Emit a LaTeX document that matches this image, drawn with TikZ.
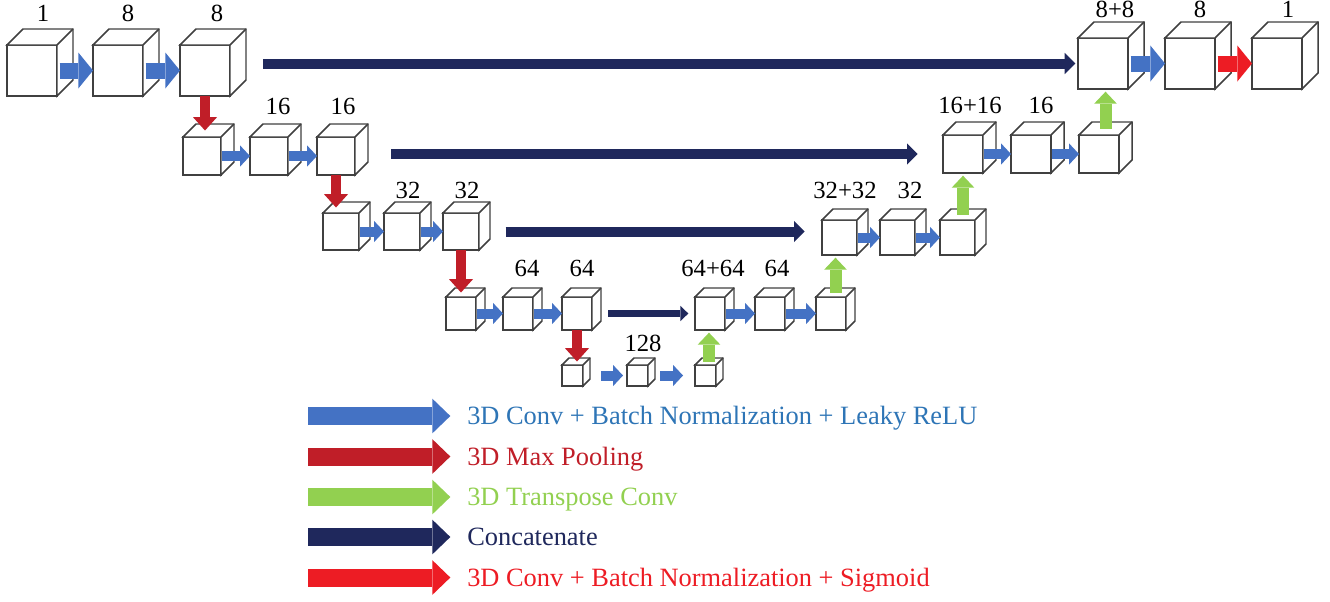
\documentclass[tikz,border=0pt]{standalone}
\usepackage{fontspec}
\setmainfont{Liberation Serif}
\usetikzlibrary{arrows.meta,calc}

\definecolor{convblue}{RGB}{68,114,196}
\definecolor{convtext}{RGB}{46,117,182}
\definecolor{poolred}{RGB}{192,30,40}
\definecolor{tgreen}{RGB}{146,208,80}
\definecolor{catnavy}{RGB}{31,40,92}
\definecolor{sigred}{RGB}{237,28,36}
\definecolor{edgegray}{RGB}{64,64,64}

\tikzset{
  face/.style={draw=edgegray, fill=white, line width=1.1pt, inner sep=0pt, outer sep=0pt},
  edge/.style={draw=edgegray, fill=white, line width=1.1pt, line join=miter},
  convarr/.style={convblue, line width=7.5pt, -{Triangle[length=7.5pt, width=16pt, line width=0pt]}},
  convbig/.style={convblue, line width=12pt, -{Triangle[length=11pt, width=27pt, line width=0pt]}},
  sigarr/.style={convbig, sigred},
  poolarr/.style={poolred, line width=8pt, -{Triangle[length=10pt, width=18pt, line width=0pt]}},
  tconvarr/.style={tgreen, line width=9pt, -{Triangle[length=9pt, width=17pt, line width=0pt]}},
  catarr/.style={catnavy, line width=7.5pt, -{Triangle[length=8pt, width=16pt, line width=0pt]}},
  catthin/.style={catarr, line width=5.5pt, -{Triangle[length=6pt, width=11.5pt, line width=0pt]}},
  legarr/.style={line width=13.5pt, -{Triangle[length=13.5pt, width=26pt, line width=0pt]}, shorten >=12.5pt},
  lab/.style={inner sep=0pt, font=\fontsize{18.5}{20}\selectfont},
  legtxt/.style={inner sep=0pt, anchor=base west, font=\fontsize{19.8}{22}\selectfont}
}

% name, left, top, width, height, depth
\newcommand{\ucube}[6]{%
  \node[face, anchor=north west, minimum width=#4*0.75pt, minimum height=#5*0.75pt] (#1) at (#2,#3) {};
  \draw[edge] (#1.north west) -- ++(#6,-#6) -- ([shift={(#6,-#6)}]#1.north east)
    -- ([shift={(#6,-#6)}]#1.south east) -- (#1.south east) -- (#1.north east) -- cycle;
  \draw[edge] (#1.north east) -- ++(#6,-#6);
  \coordinate (#1top) at ([shift={(#6/2,-#6/2)}]#1.north);
}

\begin{document}
\begin{tikzpicture}[x=0.75pt, y=-0.75pt]
	\useasboundingbox (0,0) rectangle (1330,601);

	% encoder
	\ucube{a1}{7}{45}{50}{51}{16}
	\ucube{a2}{93}{45}{50}{51}{16}
	\ucube{a3}{180}{45}{50}{51}{16}
	\ucube{b1}{183}{137}{38}{38}{13}
	\ucube{b2}{250}{137}{38}{38}{13}
	\ucube{b3}{317}{137}{38}{38}{13}
	\ucube{c1}{323}{213}{36}{37}{11}
	\ucube{c2}{384}{213}{36}{37}{11}
	\ucube{c3}{443}{213}{36}{37}{11}
	\ucube{e1}{446}{297}{30}{33}{9}
	\ucube{e2}{503}{297}{30}{33}{9}
	\ucube{e3}{562}{297}{30}{33}{9}
	% bottom
	\ucube{f1}{562}{365}{21}{21}{7}
	\ucube{f2}{627}{365}{21}{21}{7}
	\ucube{f3}{695}{365}{21}{21}{7}
	% decoder
	\ucube{g1}{695}{297}{30}{33}{9}
	\ucube{g2}{755}{297}{30}{33}{9}
	\ucube{g3}{816}{297}{30}{33}{9}
	\ucube{h1}{822}{220}{35}{35}{11}
	\ucube{h2}{880}{220}{35}{35}{11}
	\ucube{h3}{940}{220}{35}{35}{11}
	\ucube{k1}{943}{135}{40}{38}{13}
	\ucube{k2}{1011}{135}{40}{38}{13}
	\ucube{k3}{1079}{135}{40}{38}{13}
	\ucube{m1}{1078}{38}{50}{51}{16}
	\ucube{m2}{1165}{38}{50}{51}{16}
	\ucube{m3}{1252}{38}{50}{51}{16}

	% conv
	\draw[convbig, shorten <=2pt] (a1.east) -- (a2.west);
	\draw[convbig, shorten <=2pt] (a2.east) -- (a3.west);
	\draw[convarr, shorten <=1pt] (b1.east) -- (b2.west);
	\draw[convarr, shorten <=1pt] (b2.east) -- (b3.west);
	\draw[convarr, shorten <=1pt] (c1.east) -- (c2.west);
	\draw[convarr, shorten <=1pt] (c2.east) -- (c3.west);
	\draw[convarr, shorten <=1pt] (e1.east) -- (e2.west);
	\draw[convarr, shorten <=1pt] (e2.east) -- (e3.west);
	\draw[convarr, shorten <=13.5pt, shorten >=3pt] (f1.east) -- (f2.west);
	\draw[convarr, shorten <=9pt, shorten >=9pt] (f2.east) -- (f3.west);
	\draw[convarr, shorten <=1pt] (g1.east) -- (g2.west);
	\draw[convarr, shorten <=1pt] (g2.east) -- (g3.west);
	\draw[convarr, shorten <=1pt] (h1.east) -- (h2.west);
	\draw[convarr, shorten <=1pt] (h2.east) -- (h3.west);
	\draw[convarr, shorten <=1pt] (k1.east) -- (k2.west);
	\draw[convarr, shorten <=1pt] (k2.east) -- (k3.west);
	\draw[convbig, shorten <=2pt] (m1.east) -- (m2.west);
	\draw[sigarr, shorten <=2pt] (m2.east) -- (m3.west);

	% max pooling
	\draw[poolarr] (a3.south) -- (a3.south |- b1top);
	\draw[poolarr] (b3.south) -- (b3.south |- c1top);
	\draw[poolarr] (c3.south) -- (c3.south |- e1top);
	\draw[poolarr] (e3.south) -- (e3.south |- f1top);

	% transpose conv
	\draw[tconvarr, shorten >=2pt] (f3top) -- (f3top |- g1.south);
	\draw[tconvarr, shorten >=2pt] (g3top) -- (g3top |- h1.south);
	\draw[tconvarr, shorten >=2pt] (h3top) -- (h3top |- k1.south);
	\draw[tconvarr, shorten >=2pt] (k3top) -- (k3top |- m1.south);

	% concatenate
	\draw[catarr, shorten <=25pt, shorten >=2pt] (a3.east |- m1.west) -- (m1.west);
	\draw[catarr, shorten <=27pt, shorten >=19pt] (b3.east |- k1.west) -- (k1.west);
	\draw[catarr, shorten <=20pt, shorten >=13pt] (c3.east) -- (c3.east -| h1.west);
	\draw[catthin, shorten <=12pt, shorten >=5pt] (e3.east) -- (e3.east -| g1.west);

	% channels
	\node[lab] (n1) at (43,13) {1};
	\node[lab] (n2) at (128,13) {8};
	\node[lab] (n3) at (217,13) {8};
	\node[lab] (n4) at (278,106) {16};
	\node[lab] (n5) at (343,106) {16};
	\node[lab] (n6) at (408,190) {32};
	\node[lab] (n7) at (467,190) {32};
	\node[lab] (n8) at (527,268) {64};
	\node[lab] (n9) at (582,268) {64};
	\node[lab] (n10) at (643,343) {128};
	\node[lab] (n11) at (713,268) {64+64};
	\node[lab] (n12) at (777,268) {64};
	\node[lab] (n13) at (845,190) {32+32};
	\node[lab] (n14) at (910,190) {32};
	\node[lab] (n15) at (970,105) {16+16};
	\node[lab] (n16) at (1041,105) {16};
	\node[lab] (n17) at (1115,9) {8+8};
	\node[lab] (n18) at (1200,9) {8};
	\node[lab] (n19) at (1288,9) {1};

	% legend
	\node[legtxt, text=convtext] (t1) at (467,424.5) {3D Conv + Batch Normalization + Leaky ReLU};
	\node[legtxt, text=poolred] (t2) at (467,465) {3D Max Pooling};
	\node[legtxt, text=tgreen] (t3) at (467,505.5) {3D Transpose Conv};
	\node[legtxt, text=catnavy] (t4) at (467,545.5) {Concatenate};
	\node[legtxt, text=sigred] (t5) at (467,586) {3D Conv + Batch Normalization + Sigmoid};
	\coordinate (s1) at (308,416);
	\coordinate (s2) at (308,456.5);
	\coordinate (s3) at (308,497);
	\coordinate (s4) at (308,537);
	\coordinate (s5) at (308,577.5);
	\draw[legarr, convblue] (s1) -- (s1 -| t1.west);
	\draw[legarr, poolred] (s2) -- (s2 -| t2.west);
	\draw[legarr, tgreen] (s3) -- (s3 -| t3.west);
	\draw[legarr, catnavy] (s4) -- (s4 -| t4.west);
	\draw[legarr, sigred] (s5) -- (s5 -| t5.west);
\end{tikzpicture}
\end{document}
